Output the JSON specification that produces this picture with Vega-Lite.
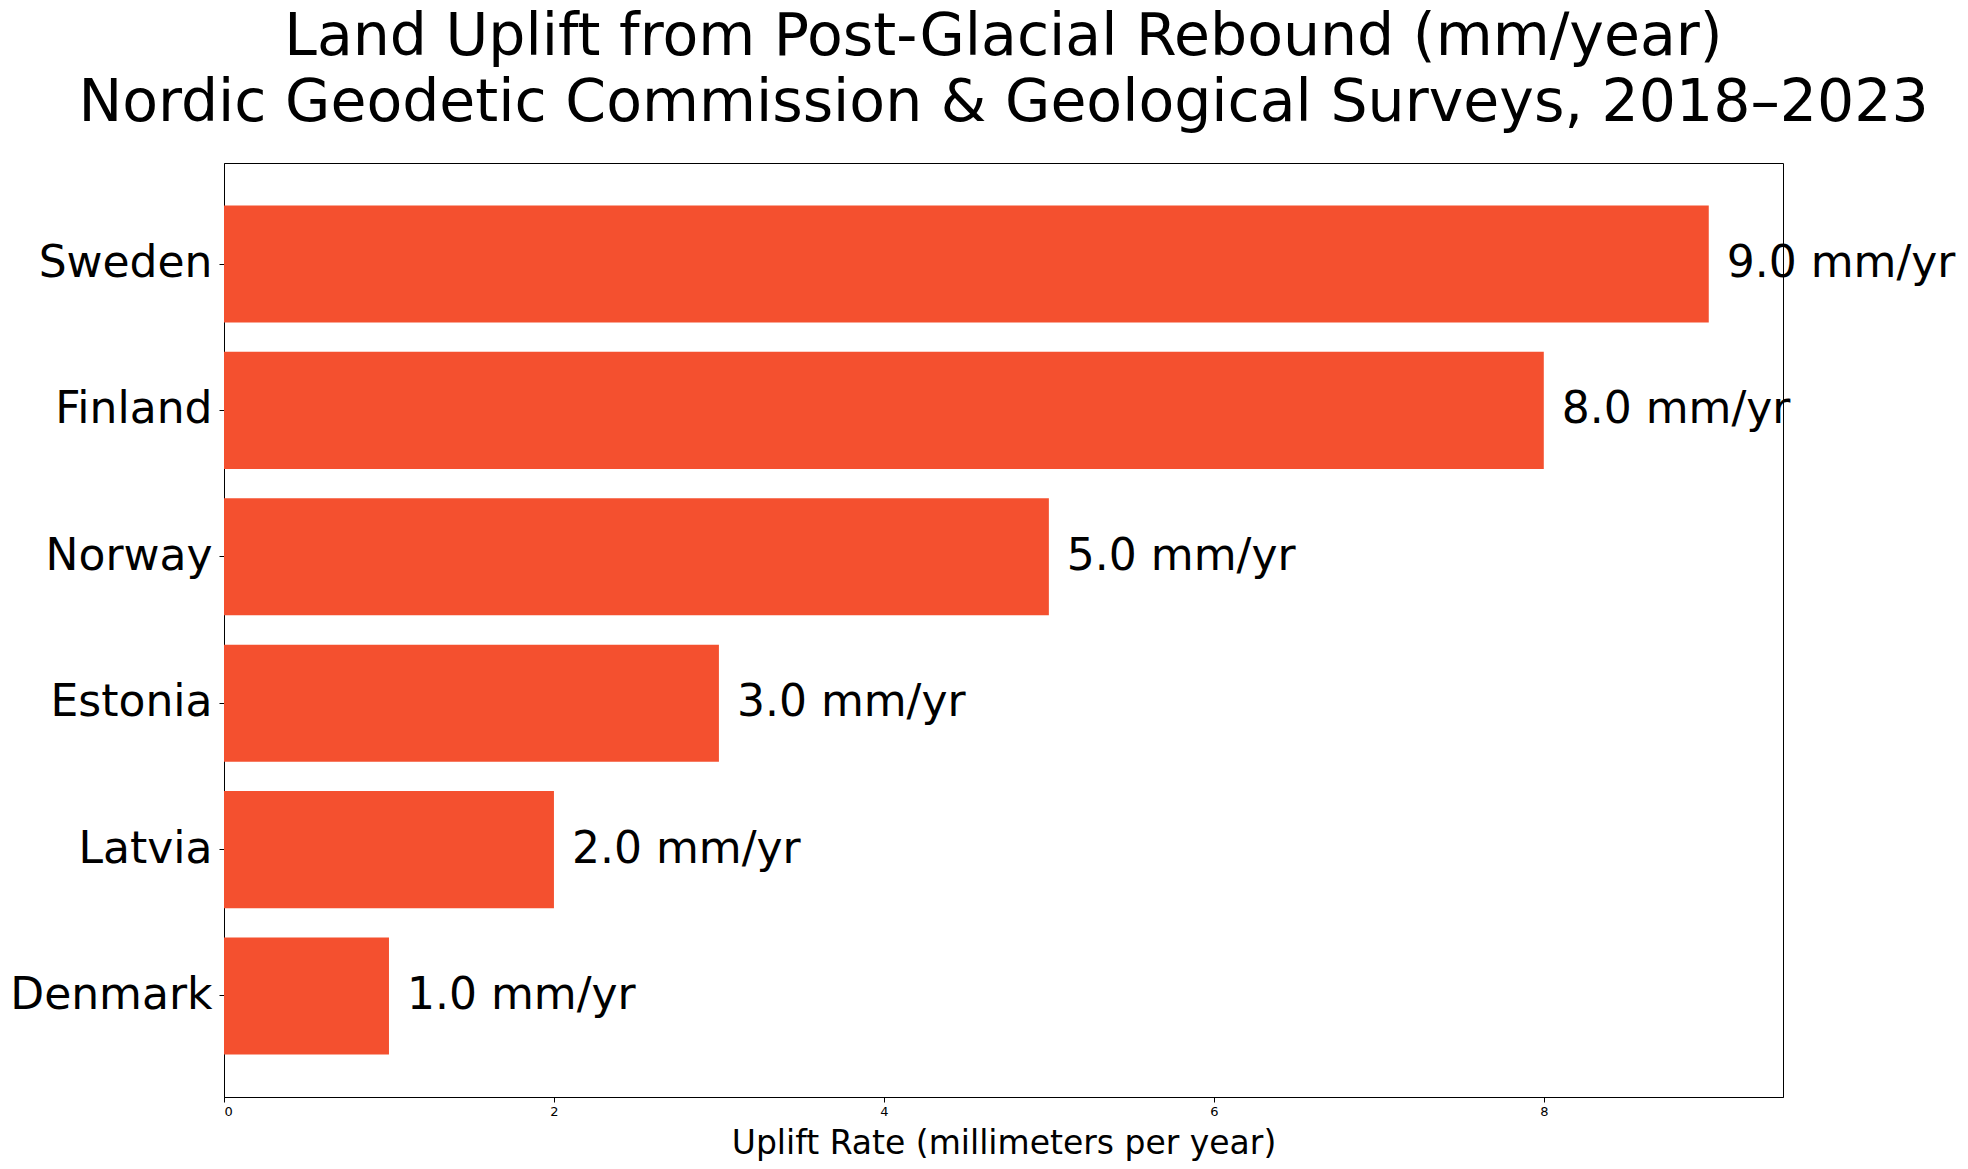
{
  "$schema": "https://vega.github.io/schema/vega-lite/v6.json",
  "width": 1559,
  "height": 934,
  "autosize": {"type": "none"},
  "padding": {"left": 224, "top": 163, "right": 185, "bottom": 72},
  "background": "white",
  "title": {
    "text": ["Land Uplift from Post-Glacial Rebound (mm/year)", "Nordic Geodetic Commission & Geological Surveys, 2018–2023"],
    "font": "DejaVu Sans",
    "fontSize": 58.5,
    "fontWeight": "normal",
    "lineHeight": 66,
    "color": "black",
    "frame": "group",
    "anchor": "middle",
    "offset": 30
  },
  "config": {
    "view": {"stroke": "black", "strokeWidth": 1},
    "font": "DejaVu Sans",
    "axis": {"grid": false, "domainColor": "black", "tickColor": "black", "labelColor": "black", "titleColor": "black", "labelFont": "DejaVu Sans", "titleFont": "DejaVu Sans", "tickSize": 5, "domainWidth": 1, "tickWidth": 1}
  },
  "data": {
    "values": [
      {"country": "Sweden", "uplift": 9.0, "label": "9.0 mm/yr"},
      {"country": "Finland", "uplift": 8.0, "label": "8.0 mm/yr"},
      {"country": "Norway", "uplift": 5.0, "label": "5.0 mm/yr"},
      {"country": "Estonia", "uplift": 3.0, "label": "3.0 mm/yr"},
      {"country": "Latvia", "uplift": 2.0, "label": "2.0 mm/yr"},
      {"country": "Denmark", "uplift": 1.0, "label": "1.0 mm/yr"}
    ]
  },
  "encoding": {
    "y": {
      "field": "country",
      "type": "nominal",
      "sort": ["Sweden", "Finland", "Norway", "Estonia", "Latvia", "Denmark"],
      "scale": {"paddingInner": 0.2, "paddingOuter": 0.29},
      "axis": {"title": null, "labelFontSize": 44, "labelPadding": 7, "labelBaseline": "middle", "labelLimit": 400}
    },
    "x": {
      "field": "uplift",
      "type": "quantitative",
      "scale": {"domain": [0, 9.45], "nice": false, "zero": true},
      "axis": {"title": "Uplift Rate (millimeters per year)", "titleFontSize": 33, "titleFontWeight": "normal", "titlePadding": 9, "labelFontSize": 13, "labelPadding": 3, "values": [0, 2, 4, 6, 8], "format": "d"}
    }
  },
  "layer": [
    {"mark": {"type": "bar", "color": "#F4502F"}},
    {
      "mark": {"type": "text", "align": "left", "baseline": "middle", "dx": 18, "fontSize": 44, "color": "black", "font": "DejaVu Sans"},
      "encoding": {"text": {"field": "label"}}
    }
  ]
}
